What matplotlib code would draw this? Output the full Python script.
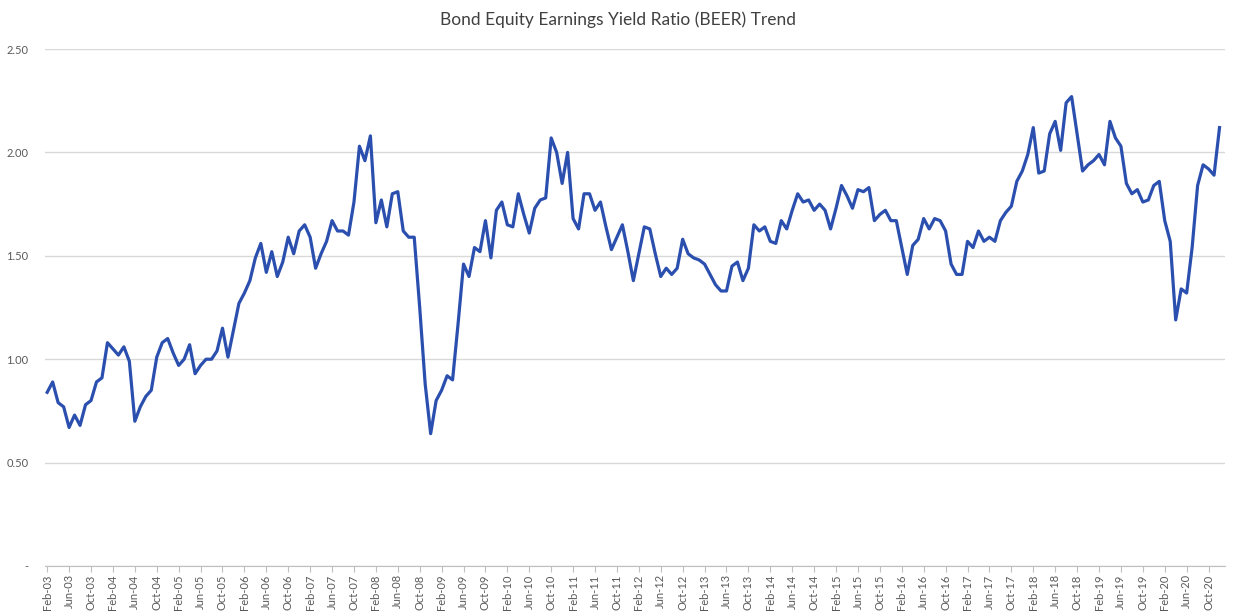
import matplotlib
matplotlib.use("Agg")
import matplotlib.pyplot as plt
import numpy as np
import pandas as pd

# monthly BEER values, Feb-03 .. Dec-20
beer_2003_2008 = [0.84, 0.89, 0.79, 0.77, 0.67, 0.73, 0.68, 0.78, 0.80, 0.89, 0.91,
                  1.08, 1.05, 1.02, 1.06, 0.99, 0.70, 0.77, 0.82, 0.85, 1.01, 1.08,
                  1.10, 1.03, 0.97, 1.00, 1.07, 0.93, 0.97, 1.00, 1.00, 1.04, 1.15,
                  1.01, 1.14, 1.27, 1.32, 1.38, 1.49, 1.56, 1.42, 1.52, 1.40, 1.47,
                  1.59, 1.51, 1.62, 1.65, 1.59, 1.44, 1.51, 1.57, 1.67, 1.62, 1.62,
                  1.60, 1.76, 2.03, 1.96, 2.08, 1.66, 1.77, 1.64, 1.80, 1.81, 1.62,
                  1.59, 1.59]
beer_2008_2013 = [1.25, 0.88, 0.64, 0.80, 0.85, 0.92, 0.90, 1.17, 1.46, 1.40, 1.54,
                  1.52, 1.67, 1.49, 1.72, 1.76, 1.65, 1.64, 1.80, 1.70, 1.61, 1.73,
                  1.77, 1.78, 2.07, 2.00, 1.85, 2.00, 1.68, 1.63, 1.80, 1.80, 1.72,
                  1.76, 1.64, 1.53, 1.59, 1.65, 1.52, 1.38, 1.51, 1.64, 1.63, 1.51,
                  1.40, 1.44, 1.41, 1.44, 1.58, 1.51, 1.49, 1.48, 1.46, 1.41, 1.36,
                  1.33, 1.33, 1.45, 1.47, 1.38, 1.44]
beer_2013_2018 = [1.65, 1.62, 1.64, 1.57, 1.56, 1.67, 1.63, 1.72, 1.80, 1.76, 1.77,
                  1.72, 1.75, 1.72, 1.63, 1.73, 1.84, 1.79, 1.73, 1.82, 1.81, 1.83,
                  1.67, 1.70, 1.72, 1.67, 1.67, 1.54, 1.41, 1.55, 1.58, 1.68, 1.63,
                  1.68, 1.67, 1.62, 1.46, 1.41, 1.41, 1.57, 1.54, 1.62, 1.57, 1.59,
                  1.57, 1.67, 1.71, 1.74, 1.86, 1.91, 1.99, 2.12, 1.90, 1.91, 2.09,
                  2.15, 2.01, 2.24, 2.27]
beer_2018_2020 = [2.09, 1.91, 1.94, 1.96, 1.99, 1.94, 2.15, 2.07, 2.03, 1.85, 1.80,
                  1.82, 1.76, 1.77, 1.84, 1.86, 1.67, 1.57, 1.19, 1.34, 1.32, 1.54,
                  1.84, 1.94, 1.92, 1.89, 2.12]

beer = beer_2003_2008 + beer_2008_2013 + beer_2013_2018 + beer_2018_2020
meses = pd.date_range("2003-02-01", periods=len(beer), freq="MS")
etiquetas = [m.strftime("%b-%y") for m in meses]
y_ticks = [0, 0.5, 1.0, 1.5, 2.0, 2.5]
y_labels = ["-", "0.50", "1.00", "1.50", "2.00", "2.50"]

titulo = "Bond Equity Earnings Yield Ratio (BEER) Trend"

plt.rcParams["font.family"] = ["Lato", "DejaVu Sans"]

fig = plt.figure(figsize=(12.36, 6.11), dpi=100)
ax = fig.add_axes([0.0364, 0.0736, 0.9547, 0.8462])

x = np.arange(len(beer))
ax.plot(x, beer, color="#2b4fae", linewidth=2.3, solid_joinstyle="round")

ax.set_ylim(0, 2.5)
ax.set_xlim(-0.4, len(beer))
ax.set_yticks(y_ticks)
ax.set_yticklabels(y_labels, fontsize=8, color="#595959")
ax.yaxis.grid(True, color="#d9d9d9", linewidth=1)
ax.set_axisbelow(True)

# una etiqueta cada 4 meses, como en Excel
pos = x[::4]
ax.set_xticks(pos)
ax.set_xticklabels([etiquetas[i] for i in pos], rotation=90, fontsize=8, color="#595959")
ax.tick_params(axis="x", length=4, color="#bfbfbf", pad=2)
ax.tick_params(axis="y", length=0, pad=12)

for lado in ["top", "right", "left"]:
    ax.spines[lado].set_visible(False)
ax.spines["bottom"].set_color("#bfbfbf")

fig.text(0.5, 0.967, titulo, ha="center", va="center", fontsize=12.5, color="#404040")

plt.savefig("out.png", dpi=100)
plt.close()
